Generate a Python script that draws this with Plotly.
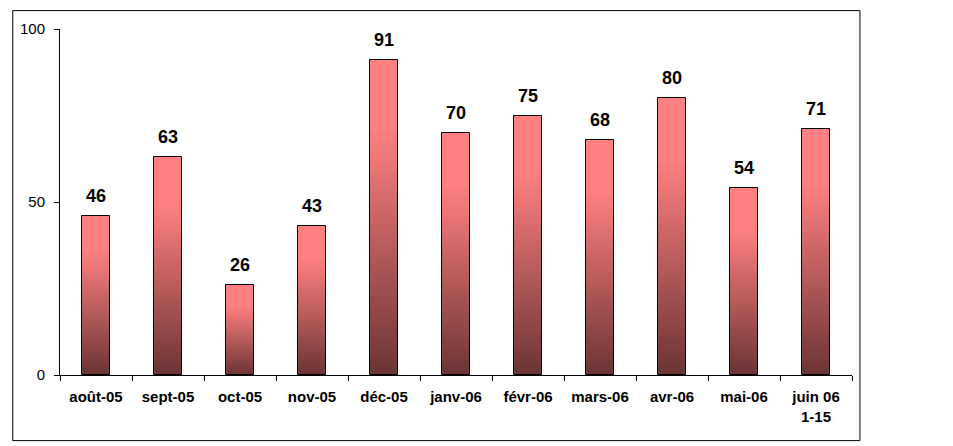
import plotly.graph_objects as go

categories = ["août-05", "sept-05", "oct-05", "nov-05", "déc-05", "janv-06",
              "févr-06", "mars-06", "avr-06", "mai-06", "juin 06<br>1-15"]
values = [46, 63, 26, 43, 91, 70, 75, 68, 80, 54, 71]
y_ticks = [0, 50, 100]

DARK = (107, 52, 52)
PINK = (255, 128, 128)
N = 48

def seg_color(f):
    t = min(1.0, f / 0.78)
    c = [round(DARK[i] + (PINK[i] - DARK[i]) * t) for i in range(3)]
    return f"rgb({c[0]},{c[1]},{c[2]})"

# page has an 8px body margin: compensate so plot area lands at the same screen spot
L, T = 48, 19
PW, PH = 796, 348

fig = go.Figure()
for k in range(N):
    fig.add_trace(go.Bar(
        x=categories,
        y=[v / N * 1.02 for v in values],
        base=[v * k / N for v in values],
        width=0.40,
        marker=dict(color=seg_color((k + 0.5) / N), line=dict(width=0)),
        showlegend=False, hoverinfo="skip",
    ))
# outline
fig.add_trace(go.Bar(
    x=categories, y=values, width=0.40,
    marker=dict(color="rgba(0,0,0,0)", line=dict(color="black", width=1)),
    showlegend=False,
))
for c, v in zip(categories, values):
    fig.add_annotation(x=c, y=v, text=str(v), showarrow=False,
                       yanchor="bottom", yshift=8,
                       font=dict(family="Liberation Sans, Arial", size=18, color="black", weight="bold"))

fig.update_layout(
    width=953, height=446,
    margin=dict(l=L, r=953 - L - PW, t=T, b=446 - T - PH),
    barmode="overlay", bargap=0,
    plot_bgcolor="white", paper_bgcolor="white",
    font=dict(family="Liberation Sans, Arial", color="black"),
)
fig.update_xaxes(
    type="category", showline=True, linecolor="black", linewidth=1,
    ticks="outside", ticklen=5, tickcolor="black", tickson="boundaries",
    showgrid=False, tickfont=dict(size=15, weight="bold"), ticklabelstandoff=8,
)
fig.update_yaxes(
    range=[0, 100], tickvals=y_ticks, showline=True, linecolor="black", linewidth=1,
    ticks="outside", ticklen=5, tickcolor="black", showgrid=False, zeroline=False,
    tickfont=dict(size=15), ticklabelstandoff=6,
)
# outer frame (as close to the top-left page corner as the page allows)
x0 = (0.5 - L) / PW
x1 = (852 - L) / PW
y0 = (T + PH - 433) / PH
y1 = (T + PH - 0.5) / PH
fig.add_shape(type="rect", xref="paper", yref="paper", x0=x0, x1=x1, y0=y0, y1=y1,
              line=dict(color="black", width=1), fillcolor="rgba(0,0,0,0)")

fig.write_html("out.html")
